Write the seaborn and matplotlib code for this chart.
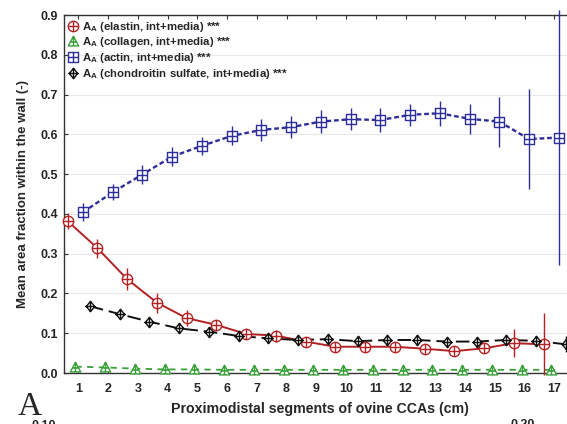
import numpy as np
import pandas as pd
import matplotlib
matplotlib.use("Agg")
import matplotlib.pyplot as plt
from matplotlib.path import Path
from matplotlib.lines import Line2D
import seaborn as sns

# ---- data -------------------------------------------------------------
segments = list(range(1, 18))
x_tick_labels = [str(s) for s in segments]
y_ticks = [0.0, 0.1, 0.2, 0.3, 0.4, 0.5, 0.6, 0.7, 0.8, 0.9]

series_names = ["elastin", "collagen", "actin", "chondroitin sulfate"]
legend_labels = [
    r"A$_\mathregular{A}$ (elastin, int+media) ***",
    r"A$_\mathregular{A}$ (collagen, int+media) ***",
    r"A$_\mathregular{A}$ (actin, int+media) ***",
    r"A$_\mathregular{A}$ (chondroitin sulfate, int+media) ***",
]

elastin_mean = [0.382, 0.314, 0.236, 0.177, 0.138, 0.121, 0.098, 0.094, 0.079,
                0.066, 0.066, 0.066, 0.061, 0.055, 0.062, 0.075, 0.072]
elastin_err = [0.019, 0.024, 0.028, 0.025, 0.020, 0.013, 0.010, 0.015, 0.008,
               0.007, 0.007, 0.007, 0.007, 0.007, 0.012, 0.035, 0.078]

collagen_mean = [0.016, 0.014, 0.011, 0.009, 0.009, 0.008, 0.008, 0.008, 0.008,
                 0.008, 0.008, 0.008, 0.008, 0.008, 0.008, 0.008, 0.008]
collagen_err = [0.003] * 17

actin_mean = [0.404, 0.454, 0.499, 0.544, 0.571, 0.596, 0.611, 0.618, 0.632,
              0.638, 0.636, 0.649, 0.653, 0.639, 0.632, 0.588, 0.592]
actin_err = [0.023, 0.020, 0.024, 0.023, 0.023, 0.024, 0.028, 0.028, 0.029,
             0.028, 0.029, 0.028, 0.031, 0.038, 0.063, 0.126, 0.320]

chondroitin_mean = [0.168, 0.148, 0.129, 0.112, 0.104, 0.093, 0.087, 0.083, 0.085,
                    0.080, 0.083, 0.083, 0.079, 0.079, 0.083, 0.081, 0.072]
chondroitin_err = [0.006, 0.005, 0.005, 0.005, 0.005, 0.005, 0.005, 0.005, 0.005,
                   0.005, 0.005, 0.005, 0.005, 0.005, 0.006, 0.008, 0.020]

means = [elastin_mean, collagen_mean, actin_mean, chondroitin_mean]
errors = [elastin_err, collagen_err, actin_err, chondroitin_err]

# ---- styling ------------------------------------------------------------
colors = {"elastin": "#b22222", "collagen": "#3aa13a",
          "actin": "#2e2e9a", "chondroitin sulfate": "#111111"}
dodge = {"elastin": -0.36, "collagen": -0.10,
         "actin": 0.15, "chondroitin sulfate": 0.39}
dash_map = {"elastin": "", "collagen": (3.5, 3.0),
            "actin": (2.0, 1.2), "chondroitin sulfate": (7.0, 3.0)}
line_widths = {"elastin": 1.4, "collagen": 1.3,
               "actin": 1.7, "chondroitin sulfate": 1.4}


def _seg(a, b):
    return Path([a, b], [Path.MOVETO, Path.LINETO])


def crossed(outline, half=1.0):
    return Path.make_compound_path(outline,
                                   _seg((-half, 0), (half, 0)),
                                   _seg((0, -half), (0, half)))


circle_m = crossed(Path.unit_circle())
square_m = crossed(Path([(-1, -1), (1, -1), (1, 1), (-1, 1), (-1, -1)],
                        [Path.MOVETO] + [Path.LINETO] * 3 + [Path.CLOSEPOLY]))
tri_m = Path.make_compound_path(
    Path([(-1, -0.85), (1, -0.85), (0, 1), (-1, -0.85)],
         [Path.MOVETO, Path.LINETO, Path.LINETO, Path.CLOSEPOLY]),
    _seg((-0.6, -0.1), (0.6, -0.1)), _seg((0, -0.85), (0, 1)))
diamond_m = crossed(Path([(0, -1), (0.8, 0), (0, 1), (-0.8, 0), (0, -1)],
                         [Path.MOVETO] + [Path.LINETO] * 3 + [Path.CLOSEPOLY]),
                    half=1.0)
marker_map = {"elastin": circle_m, "collagen": tri_m,
              "actin": square_m, "chondroitin sulfate": diamond_m}

rows = []
for name, m, e in zip(series_names, means, errors):
    for s, v, er in zip(segments, m, e):
        rows.append({"series": name, "segment": s,
                     "xpos": s + dodge[name], "mean": v, "err": er})
df = pd.DataFrame(rows)

sns.set_style("white")
plt.rcParams["font.family"] = ["Liberation Sans", "DejaVu Sans"]
plt.rcParams["mathtext.fontset"] = "custom"
plt.rcParams["mathtext.rm"] = "Liberation Sans:bold"
plt.rcParams["mathtext.default"] = "regular"

fig = plt.figure(figsize=(5.67, 4.24), dpi=100)
W, H = 567.0, 424.0
ax_left, ax_right, ax_top, ax_bottom = 64, 575, 15, 373
ax = fig.add_axes([ax_left / W, 1 - ax_bottom / H,
                   (ax_right - ax_left) / W, (ax_bottom - ax_top) / H])

# connecting lines
for name in series_names:
    sub = df[df["series"] == name]
    sns.lineplot(data=sub, x="xpos", y="mean", ax=ax, color=colors[name],
                 linewidth=line_widths[name], dashes=False, legend=False,
                 estimator=None, sort=False, zorder=2)
    ln = ax.lines[-1]
    if dash_map[name]:
        ln.set_dashes(dash_map[name])

# error bars and markers
for name in series_names:
    sub = df[df["series"] == name]
    ax.errorbar(sub["xpos"], sub["mean"], yerr=sub["err"], fmt="none",
                ecolor=colors[name], elinewidth=1.0, capsize=0,
                zorder=3, clip_on=False)
    ax.plot(sub["xpos"], sub["mean"], linestyle="none",
            marker=marker_map[name], markersize=7.5,
            markerfacecolor="white", markeredgecolor=colors[name],
            markeredgewidth=1.0, zorder=4, clip_on=False)

ax.set_xlim(0.519, 1 + (ax_right - 78.3) / 29.75)
ax.set_ylim(0, 0.9)
ax.set_xticks(segments)
ax.set_xticklabels(x_tick_labels)
ax.set_yticks(y_ticks)
ax.set_yticklabels([f"{v:.1f}" for v in y_ticks])
ax.yaxis.grid(True, color="#e8e8e8", linewidth=0.8)
ax.xaxis.grid(False)
ax.set_axisbelow(True)

ax.tick_params(axis="both", direction="in", length=3, width=0.8,
               color="#333333", labelsize=9)
ax.tick_params(axis="x", top=True, bottom=True, pad=7)
ax.tick_params(axis="y", left=True, right=False, pad=4.5)
for lab in ax.get_xticklabels() + ax.get_yticklabels():
    lab.set_fontweight("bold")
for sp in ax.spines.values():
    sp.set_color("#333333")
    sp.set_linewidth(1.0)

ax.set_xlabel("Proximodistal segments of ovine CCAs (cm)",
              fontsize=10.2, fontweight="bold", labelpad=5)
ax.set_ylabel("Mean area fraction within the wall (-)",
              fontsize=9.5, fontweight="bold", labelpad=8)

handles = [Line2D([], [], linestyle="none", marker=marker_map[n],
                  markersize=7.5, markerfacecolor="white",
                  markeredgecolor=colors[n], markeredgewidth=1.0)
           for n in series_names]
leg = ax.legend(handles, legend_labels, loc="upper left", frameon=False,
                prop={"size": 8.2, "weight": "bold"}, handlelength=0.8,
                handletextpad=0.35, borderaxespad=0.1, labelspacing=0.15,
                borderpad=0.3)

fig.text(30 / W, 1 - 415 / H, "A", family="Liberation Serif",
         fontsize=24, ha="center", va="baseline")
fig.text(44 / W, 1 - 420 / H, "0.10", fontsize=9, fontweight="bold",
         ha="center", va="top")
fig.text(523 / W, 1 - 419 / H, "0.20", fontsize=9, fontweight="bold",
         ha="center", va="top")

fig.savefig("out.png", dpi=100)
